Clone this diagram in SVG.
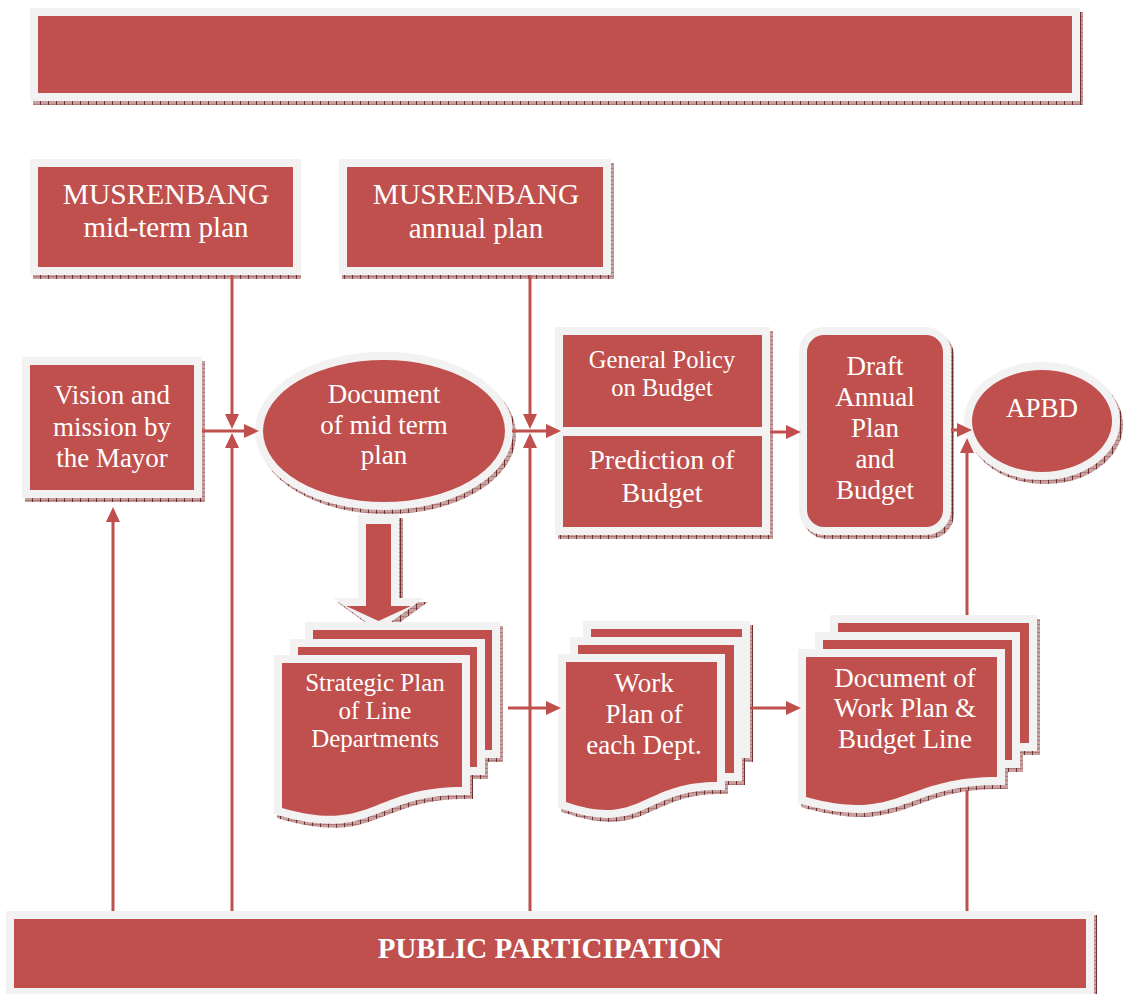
<svg xmlns="http://www.w3.org/2000/svg" width="1123" height="994" viewBox="0 0 1123 994">
  <defs>
    <!-- hatched drop-shadow fill -->
    <pattern id="hatch" width="8" height="8" patternUnits="userSpaceOnUse">
      <rect width="8" height="8" fill="#c7a0a0"/>
      <path d="M0,0.5 H8 M0,4.5 H8" stroke="#a06a6a" stroke-width="0.7"/>
      <path d="M0.5,0 V8" stroke="#6e2f2f" stroke-width="1"/>
    </pattern>
    <marker id="ah" markerUnits="userSpaceOnUse" viewBox="0 0 15 14" markerWidth="15" markerHeight="14" refX="3" refY="7" orient="auto">
      <path d="M0,0 L15,7 L0,14 Z" fill="#C0504D"/>
    </marker>
    <style>
      .node { fill: #C0504D; stroke: #F2F2F2; stroke-width: 16; paint-order: stroke; stroke-linejoin: miter; }
      .red { fill: #C0504D; }
      .frame { fill: #F2F2F2; }
      .shadow { fill: url(#hatch); stroke: url(#hatch); stroke-width: 16; }
      .shadowfill { fill: url(#hatch); }
      .t { font-family: "Liberation Serif", "Times New Roman", serif; fill: #ffffff; text-anchor: middle; font-size: 27px; }
      .conn { fill: none; stroke: #C0504D; stroke-width: 3; }
    </style>
  </defs>

  <rect width="1123" height="994" fill="#ffffff"/>

  <!-- title banner -->
  <g id="banner">
    <rect class="shadow" x="41" y="20" width="1034" height="77"/>
    <rect class="node" x="38" y="16" width="1034" height="77"/>
  </g>

  <!-- MUSRENBANG mid-term plan -->
  <g id="musrenbang-midterm">
    <rect class="shadow" x="41" y="171" width="252" height="100"/>
    <rect class="node" x="38" y="167" width="255" height="100"/>
    <text class="t" x="166" y="204" style="font-size:29.5px">MUSRENBANG</text>
    <text class="t" x="166" y="237" style="font-size:29px">mid-term plan</text>
  </g>

  <!-- MUSRENBANG annual plan -->
  <g id="musrenbang-annual">
    <rect class="shadow" x="350" y="171" width="256" height="100"/>
    <rect class="node" x="347" y="167" width="256" height="100"/>
    <text class="t" x="476" y="204" style="font-size:29.5px">MUSRENBANG</text>
    <text class="t" x="476" y="238" style="font-size:29px">annual plan</text>
  </g>

  <!-- Vision and mission -->
  <g id="vision">
    <rect class="shadow" x="33" y="369" width="164" height="125"/>
    <rect class="node" x="30" y="365" width="164" height="125"/>
    <text class="t" x="112" y="404">Vision and</text>
    <text class="t" x="112" y="436">mission by</text>
    <text class="t" x="112" y="467">the Mayor</text>
  </g>

  <!-- Document of mid term plan -->
  <g id="midterm-doc">
    <ellipse class="shadow" cx="387" cy="435" rx="121" ry="71"/>
    <ellipse class="node" cx="384" cy="431" rx="121" ry="71"/>
    <text class="t" x="384" y="403">Document</text>
    <text class="t" x="384" y="434">of mid term</text>
    <text class="t" x="384" y="464">plan</text>
  </g>

  <!-- block arrow down to strategic plan -->
  <g id="block-arrow">
    <polygon class="shadowfill" points="362,518 403,518 403,602 428,602 382.5,635 337,602 362,602"/>
    <polygon class="frame" points="358,514 399,514 399,598 424,598 378.5,631 333,598 358,598"/>
    <polygon class="red" points="366,524 391,524 391,606 411,606 378.5,621 346,606 366,606"/>
  </g>

  <!-- General policy / Prediction of budget -->
  <g id="budget-policy">
    <rect class="shadowfill" x="558" y="331" width="215" height="208"/>
    <rect class="frame" x="555" y="327" width="215" height="208"/>
    <rect class="red" x="563" y="335" width="199" height="92"/>
    <rect class="red" x="563" y="436" width="199" height="91"/>
    <text class="t" x="662" y="368" style="font-size:24.5px">General Policy</text>
    <text class="t" x="662" y="396" style="font-size:24.5px">on Budget</text>
    <text class="t" x="662" y="469" style="font-size:28px">Prediction of</text>
    <text class="t" x="662" y="502" style="font-size:28px">Budget</text>
  </g>

  <!-- Draft annual plan and budget -->
  <g id="draft">
    <rect class="shadow" x="810" y="339" width="136" height="192" rx="17"/>
    <rect class="node" x="807" y="335" width="136" height="192" rx="17"/>
    <text class="t" x="875" y="375">Draft</text>
    <text class="t" x="875" y="406">Annual</text>
    <text class="t" x="875" y="437">Plan</text>
    <text class="t" x="875" y="468">and</text>
    <text class="t" x="875" y="499">Budget</text>
  </g>

  <!-- APBD -->
  <g id="apbd">
    <ellipse class="shadow" cx="1045" cy="425" rx="70" ry="51"/>
    <ellipse class="node" cx="1042" cy="421" rx="70" ry="51"/>
    <text class="t" x="1042" y="417">APBD</text>
  </g>

  <!-- Strategic plan of line departments -->
  <g id="strategic-plan">
    <rect class="shadow" x="316" y="634" width="179" height="120"/>
    <rect class="shadow" x="301" y="651" width="179" height="120"/>
    <path class="shadow" d="M285,667 H465 V791 C375,791 375,838 285,812 Z"/>
    <rect class="node" x="313" y="630" width="179" height="120"/>
    <rect class="node" x="298" y="647" width="179" height="120"/>
    <path class="node" d="M282,663 H462 V787 C372,787 372,834 282,808 Z"/>
    <text class="t" x="375" y="691" style="font-size:25px">Strategic Plan</text>
    <text class="t" x="375" y="719" style="font-size:25px">of Line</text>
    <text class="t" x="375" y="747" style="font-size:25px">Departments</text>
  </g>

  <!-- Work plan of each department -->
  <g id="work-plan">
    <rect class="shadow" x="594" y="633" width="151" height="121"/>
    <rect class="shadow" x="581" y="649" width="156" height="128"/>
    <path class="shadow" d="M569,666 H720 V786 C644.5,786 644.5,832 569,806 Z"/>
    <rect class="node" x="591" y="629" width="151" height="121"/>
    <rect class="node" x="578" y="645" width="156" height="128"/>
    <path class="node" d="M566,662 H717 V782 C641.5,782 641.5,828 566,802 Z"/>
    <text class="t" x="644" y="692">Work</text>
    <text class="t" x="644" y="723">Plan of</text>
    <text class="t" x="644" y="754">each Dept.</text>
  </g>

  <!-- Document of work plan and budget line -->
  <g id="workplan-budget">
    <rect class="shadow" x="841" y="627" width="191" height="120"/>
    <rect class="shadow" x="826" y="644" width="189" height="120"/>
    <path class="shadow" d="M809,661 H1000 V781 C904.5,781 904.5,827 809,801 Z"/>
    <rect class="node" x="838" y="623" width="191" height="120"/>
    <rect class="node" x="823" y="640" width="189" height="120"/>
    <path class="node" d="M806,657 H997 V777 C901.5,777 901.5,823 806,797 Z"/>
    <text class="t" x="905" y="687">Document of</text>
    <text class="t" x="905" y="717">Work Plan &amp;</text>
    <text class="t" x="905" y="748">Budget Line</text>
  </g>

  <!-- Public participation -->
  <g id="public-participation">
    <rect class="shadow" x="17" y="923" width="1072" height="69"/>
    <rect class="node" x="14" y="919" width="1072" height="69"/>
    <text class="t" x="550" y="958" style="font-size:29px;font-weight:bold">PUBLIC PARTICIPATION</text>
  </g>

  <!-- connectors -->
  <g id="connectors">
    <path class="conn" marker-end="url(#ah)" d="M202,431 H247"/>
    <path class="conn" marker-end="url(#ah)" d="M232,275 V417"/>
    <path class="conn" marker-end="url(#ah)" d="M232,911 V445"/>
    <path class="conn" marker-end="url(#ah)" d="M530,275 V417"/>
    <path class="conn" marker-end="url(#ah)" d="M530,911 V445"/>
    <path class="conn" marker-end="url(#ah)" d="M512,431 H549"/>
    <path class="conn" marker-end="url(#ah)" d="M770,432 H789"/>
    <path class="conn" marker-end="url(#ah)" d="M951,430 H960"/>
    <path class="conn" d="M967,911 V790"/>
    <path class="conn" marker-end="url(#ah)" d="M967,615 V450"/>
    <path class="conn" marker-end="url(#ah)" d="M113,911 V519"/>
    <path class="conn" marker-end="url(#ah)" d="M508,708 H549"/>
    <path class="conn" marker-end="url(#ah)" d="M750,708 H789"/>
  </g>
</svg>
